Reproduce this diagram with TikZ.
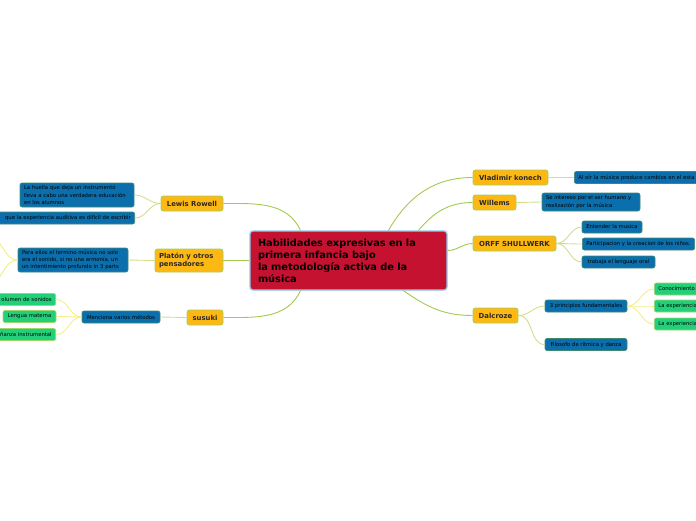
\documentclass[tikz,border=0pt]{standalone}
\usepackage{fontspec}
\setmainfont{DejaVu Sans}
\usetikzlibrary{calc}
\definecolor{hubfill}{HTML}{C41230}
\definecolor{hubborder}{HTML}{8CCBEA}
\definecolor{orfill}{HTML}{FDB813}
\definecolor{orborder}{HTML}{A8D05A}
\definecolor{bluefill}{HTML}{0B6FAE}
\definecolor{blueborder}{HTML}{3F8A6E}
\definecolor{grfill}{HTML}{22D07A}
\definecolor{grborder}{HTML}{9CD86A}
\definecolor{lineA}{HTML}{A3C94E}
\definecolor{lineB}{HTML}{D6DC8E}
\definecolor{lineC}{HTML}{F4EE84}
\definecolor{txt}{HTML}{2A2A2A}
\begin{document}
\begin{tikzpicture}[x=1pt,y=-1pt,
  hub/.style={draw=hubborder, line width=1.3pt, fill=hubfill, rounded corners=3pt,
    inner xsep=8pt, inner ysep=0pt, minimum height=59pt, text width=181pt, align=left,
    font=\bfseries\fontsize{9.8}{12}\selectfont, text=black},
  lvl/.style={draw=orborder, line width=0.9pt, fill=orfill, rounded corners=2.5pt,
    inner sep=0pt, minimum height=15pt, font=\bfseries\fontsize{6.9}{8}\selectfont, text=txt},
  bluebox/.style={draw=blueborder, line width=0.6pt, fill=bluefill, rounded corners=2pt,
    inner xsep=4pt, inner ysep=0pt, minimum height=12pt, font=\fontsize{5.3}{7.4}\selectfont, text=black},
  greenbox/.style={draw=grborder, line width=0.6pt, fill=grfill, rounded corners=2pt,
    inner xsep=4pt, inner ysep=0pt, minimum height=12pt, font=\fontsize{5.3}{7.4}\selectfont, text=black},
  linkA/.style={draw=lineA, line width=0.9pt},
  linkB/.style={draw=lineB, line width=0.9pt},
  linkC/.style={draw=lineC, line width=0.9pt}]
\useasboundingbox (0,0) rectangle (696,520);
\clip (0,0) rectangle (696,520);

% hub
\node[hub] (c) at (348.5,260.5) {Habilidades expresivas en la\\primera infancia bajo\\la metodología activa de la\\música};

% level 1 left
\node[lvl, minimum width=62pt] (lr) at (192,203.5) {Lewis Rowell};
\node[lvl, minimum width=68pt, minimum height=23pt, text width=60pt, align=left, inner xsep=4pt,
  font=\bfseries\fontsize{6.9}{8.6}\selectfont] (pl) at (189,260.5) {Platón y otros\\pensadores};
\node[lvl, minimum width=36pt] (su) at (205,317.5) {susuki};

% level 1 right
\node[lvl, minimum width=75pt] (vk) at (510.5,177.5) {Vladimir konech};
\node[lvl, minimum width=43pt] (wi) at (494.5,202.5) {Willems};
\node[lvl, minimum width=83pt] (or) at (514.5,243.5) {ORFF SHULLWERK};
\node[lvl, minimum width=45pt] (da) at (495.5,315.5) {Dalcroze};

% level 2 left
\node[bluebox, minimum width=114pt, minimum height=24pt, text width=106pt, align=left] (l1) at (77,195)
  {La huella que deja un instrumentó\\lleva a cabo una verdadera educación\\en los alumnos};
\node[bluebox, anchor=east, text width=190pt, align=right] (l2) at (135,218)
  {que la experiencia auditiva es difícil de escribir};
\node[bluebox, minimum width=110pt, minimum height=24pt, text width=102pt, align=left] (p1) at (73,260)
  {Para ellos el termino música no solo\\era el sonido, si no una armonía, un\\un intentimiento profundo in 3 parts};
\node[bluebox, minimum width=78pt] (s1) at (121,317) {Menciona varios métodos};

% level 3 left
\node[greenbox, anchor=east, text width=90pt, align=right] (g1) at (56,299.5) {olumen de sonidos};
\node[greenbox, minimum width=53pt] (g2) at (29.5,316.5) {Lengua materna};
\node[greenbox, anchor=east, text width=90pt, align=right] (g3) at (56,334.5) {ñanza instrumental};
\coordinate (px1) at (-12,236);
\coordinate (px2) at (-12,284);

% level 2 right
\node[bluebox, anchor=west, text width=160pt, align=left] (v1) at (574,177.5)
  {Al oír la música produce cambios en el esta};
\node[bluebox, minimum width=98pt, minimum height=18pt, text width=90pt, align=left] (w1) at (591,202)
  {Se intereso por el ser humano y\\realización por la música};
\node[bluebox, minimum width=60pt] (o1) at (612,227) {Entender la musica};
\node[bluebox, anchor=west, minimum width=112pt] (o2) at (582,244) {Participacion y la creacion de los niños.};
\node[bluebox, minimum width=73pt] (o3) at (618.5,262) {trabaja el lenguaje oral};
\node[bluebox, minimum width=82pt] (d1) at (586,306) {3 principios fundamentales};
\node[bluebox, minimum width=82pt] (d2) at (586,344.5) {Filosofo de rítmica y danza};

% level 3 right
\node[greenbox, anchor=west, text width=80pt, align=left] (h1) at (654,289) {Conocimiento};
\node[greenbox, anchor=west, text width=80pt, align=left] (h2) at (654,306) {La experiencia};
\node[greenbox, anchor=west, text width=80pt, align=left] (h3) at (654,324) {La experiencia};

% connectors hub -> level 1
\path[linkA] (lr.east) to[out=0,in=115] ($(c.north)+(-48,0)$);
\path[linkA] (pl.east) -- (pl.east -| c.west);
\path[linkA] (su.east) to[out=0,in=-115] ($(c.south)+(-48,0)$);
\path[linkA] ($(c.north)+(40,0)$) to[out=60,in=180] (vk.west);
\path[linkA] ($(c.north)+(70,0)$) to[out=50,in=180] (wi.west);
\path[linkA] ($(c.east)+(0,-10)$) to[out=0,in=180] (or.west);
\path[linkA] ($(c.south)+(55,0)$) to[out=-35,in=180] (da.west);

% level 1 -> level 2
\path[linkB] (lr.west) to[out=180,in=0] (l1.east);
\path[linkB] (lr.west) to[out=180,in=0] (l2.east);
\path[linkB] (pl.west) -- (p1.east);
\path[linkB] (su.west) -- (s1.east);
\path[linkB] (vk.east) -- (v1.west);
\path[linkB] (wi.east) -- (w1.west);
\path[linkB] (or.east) to[out=0,in=180] (o1.west);
\path[linkB] (or.east) to[out=0,in=180] (o2.west);
\path[linkB] (or.east) to[out=0,in=180] (o3.west);
\path[linkB] (da.east) to[out=0,in=180] (d1.west);
\path[linkB] (da.east) to[out=0,in=180] (d2.west);

% level 2 -> level 3
\path[linkC] (s1.west) to[out=180,in=0] (g1.east);
\path[linkC] (s1.west) to[out=180,in=0] (g2.east);
\path[linkC] (s1.west) to[out=180,in=0] (g3.east);
\path[linkC] (p1.west) to[out=180,in=0] (px1);
\path[linkC] (p1.west) to[out=180,in=0] (px2);
\path[linkC] (d1.east) to[out=0,in=180] (h1.west);
\path[linkC] (d1.east) to[out=0,in=180] (h2.west);
\path[linkC] (d1.east) to[out=0,in=180] (h3.west);
\end{tikzpicture}
\end{document}
